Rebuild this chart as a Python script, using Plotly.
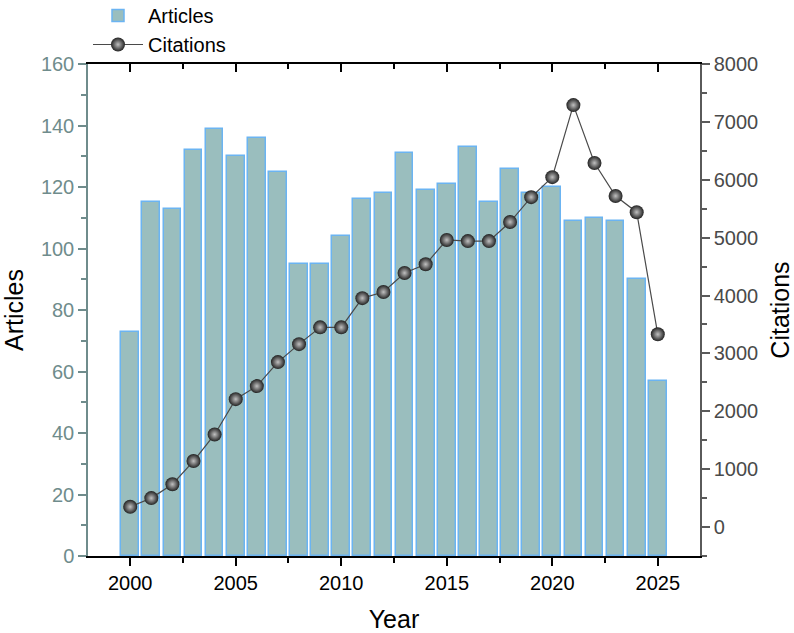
import plotly.graph_objects as go

years = list(range(2000, 2026))
articles = [73, 115, 113, 132, 139, 130, 136, 125, 95, 95, 104, 116, 118, 131,
            119, 121, 133, 115, 126, 118, 120, 109, 110, 109, 90, 57]
citations = [350, 500, 740, 1140, 1600, 2210, 2435, 2850, 3160, 3450, 3450, 3955,
             4060, 4390, 4540, 4960, 4940, 4940, 5270, 5700, 6045, 7290, 6290,
             5720, 5440, 3330]

FONT = "Liberation Sans, Arial, sans-serif"

fig = go.Figure()
fig.add_trace(go.Bar(
    x=years, y=articles, name="Articles", width=0.84,
    marker=dict(color="#9ABEBE", line=dict(color="#6BB4F2", width=1.5)),
))
fig.add_trace(go.Scatter(
    x=years, y=citations, name="Citations", yaxis="y2", mode="lines+markers",
    line=dict(color="#4a4a4a", width=1.2),
    marker=dict(size=14, color="#222222", line=dict(width=0),
                gradient=dict(type="radial", color="#c0c0c0")),
))
# invisible trace for the top mirrored axis
fig.add_trace(go.Scatter(x=[years[0]], y=[articles[0]], xaxis="x2", mode="markers",
                         marker=dict(opacity=0), showlegend=False, hoverinfo="skip"))

xr = [1998.0, 2027.0]
fig.update_layout(
    width=794, height=633,
    margin=dict(l=88, r=94, t=64, b=77, autoexpand=False),
    plot_bgcolor="white", paper_bgcolor="white",
    font=dict(family=FONT, size=20, color="black"),
    bargap=0,
    showlegend=True,
    legend=dict(x=0.0, y=1.0, xanchor="left", yanchor="bottom", xref="paper", yref="paper",
                font=dict(size=20, color="black"), bgcolor="rgba(0,0,0,0)",
                itemwidth=50, tracegroupgap=0),
    xaxis=dict(
        range=xr, tick0=2000, dtick=5, ticks="outside", ticklen=8, tickwidth=1.5,
        tickcolor="black", showline=True, linecolor="black", linewidth=1.5,
        showgrid=False, zeroline=False,
        tickfont=dict(size=20, color="black"),
        minor=dict(tick0=2000, dtick=2.5, ticks="outside", ticklen=5, tickcolor="black",
                   tickwidth=1.5, showgrid=False),
        title=dict(text="Year", font=dict(size=25), standoff=18),
    ),
    xaxis2=dict(
        overlaying="x", side="top", range=xr, tick0=2000, dtick=5,
        ticks="inside", ticklen=8, tickwidth=1.5, tickcolor="black",
        showline=True, linecolor="black", linewidth=1.5, showticklabels=False,
        showgrid=False, zeroline=False,
        minor=dict(tick0=2000, dtick=2.5, ticks="inside", ticklen=5, tickcolor="black",
                   tickwidth=1.5, showgrid=False),
    ),
    yaxis=dict(
        range=[0, 160], tick0=0, dtick=20, ticks="outside", ticklen=8, tickwidth=1.5,
        tickcolor="#6F8C8C", showline=True, linecolor="#6F8C8C", linewidth=1.5,
        showgrid=False, zeroline=False,
        tickfont=dict(size=20, color="#6F8C8C"),
        minor=dict(tick0=0, dtick=10, ticks="outside", ticklen=5, tickcolor="#6F8C8C",
                   tickwidth=1.5, showgrid=False),
        title=dict(text="Articles", font=dict(size=25, color="black"), standoff=10),
    ),
    yaxis2=dict(
        overlaying="y", side="right", range=[-500, 8000], tick0=0, dtick=1000,
        ticks="outside", ticklen=8, tickwidth=1.5, tickcolor="#5a5a5a",
        showline=True, linecolor="#5a5a5a", linewidth=1.5,
        showgrid=False, zeroline=False,
        tickfont=dict(size=20, color="#4a4a4a"),
        minor=dict(tick0=0, dtick=500, ticks="outside", ticklen=5, tickcolor="#5a5a5a",
                   tickwidth=1.5, showgrid=False),
        title=dict(text="Citations", font=dict(size=25, color="black"), standoff=15),
    ),
)

fig.write_html("out.html")
